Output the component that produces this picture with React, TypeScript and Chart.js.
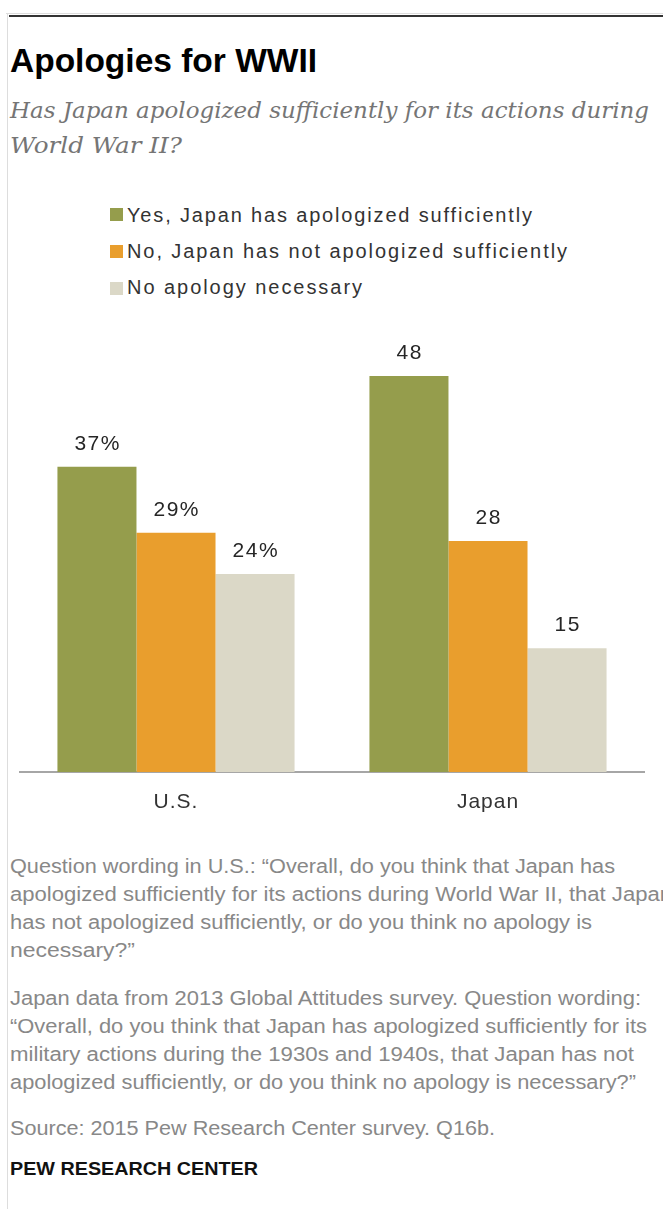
import React, { useEffect, useRef } from 'react';
import { Chart, registerables } from 'chart.js';

Chart.register(...registerables);

// ---------- data ----------
const categories = ['U.S.', 'Japan'];
const seriesNames = [
  'Yes, Japan has apologized sufficiently',
  'No, Japan has not apologized sufficiently',
  'No apology necessary',
];
const yesValues = [37, 48];
const noValues = [29, 28];
const noneValues = [24, 15];
const valueSuffix = ['%', ''];
const seriesColors = ['#959d4c', '#e99e2d', '#dbd8c7'];
const yMin = 0;
const yMax = 50;

const titleText = 'Apologies for WWII';
const subtitleLines = [
  'Has Japan apologized sufficiently for its actions during',
  'World War II?',
];
const noteLines1 = [
  'Question wording in U.S.: \u201cOverall, do you think that Japan has',
  'apologized sufficiently for its actions during World War II, that Japan',
  'has not apologized sufficiently, or do you think no apology is',
  'necessary?\u201d',
];
const noteLines2 = [
  'Japan data from 2013 Global Attitudes survey. Question wording:',
  '\u201cOverall, do you think that Japan has apologized sufficiently for its',
  'military actions during the 1930s and 1940s, that Japan has not',
  'apologized sufficiently, or do you think no apology is necessary?\u201d',
];
const sourceText = 'Source: 2015 Pew Research Center survey. Q16b.';
const creditText = 'PEW RESEARCH CENTER';

// ---------- layout (positions / sizes only) ----------
const subtitleWidths = [639, 172];
const legendTextWidths = [405, 440, 235];
const note1Widths = [605, 662, 582, 125];
const note2Widths = [631, 637, 624, 626];
const note1Baselines = [873, 901, 929, 957];
const note2Baselines = [1005, 1033, 1061, 1089];

const valueLabelPlugin = {
  id: 'valueLabels',
  afterDatasetsDraw(chart: any) {
    const ctx = chart.ctx;
    ctx.save();
    ctx.font = '21px "Liberation Sans", Arial, sans-serif';
    ctx.fillStyle = '#262626';
    ctx.textAlign = 'center';
    ctx.textBaseline = 'alphabetic';
    (ctx as any).letterSpacing = '1.5px';
    chart.data.datasets.forEach((ds: any, di: number) => {
      const meta = chart.getDatasetMeta(di);
      meta.data.forEach((bar: any, i: number) => {
        ctx.fillText(`${ds.data[i]}${valueSuffix[i]}`, bar.x + 0.75, bar.y - 17);
      });
    });
    ctx.restore();
  },
};

const letterSpacingPlugin = {
  id: 'tickSpacing',
  beforeDraw(chart: any) {
    (chart.ctx as any).letterSpacing = '1px';
  },
  afterDraw(chart: any) {
    (chart.ctx as any).letterSpacing = '0px';
  },
};

function BarChart() {
  const ref = useRef<HTMLCanvasElement | null>(null);
  useEffect(() => {
    if (!ref.current) return;
    const dataSets = [yesValues, noValues, noneValues];
    const chart = new Chart(ref.current, {
      type: 'bar',
      data: {
        labels: categories,
        datasets: dataSets.map((d, i) => ({
          label: seriesNames[i],
          data: d,
          backgroundColor: seriesColors[i],
          borderWidth: 0,
          categoryPercentage: 0.76,
          barPercentage: 1,
        })),
      },
      options: {
        animation: false,
        responsive: false,
        maintainAspectRatio: false,
        layout: { padding: { top: 39.5, left: 20, right: 19, bottom: 0 } },
        plugins: {
          legend: { display: false },
          tooltip: { enabled: false },
          title: { display: false },
        },
        scales: {
          x: {
            grid: { display: false, drawTicks: false },
            border: { display: true, color: '#a6a6a6', width: 2 },
            ticks: {
              color: '#333333',
              font: { family: '"Liberation Sans", Arial, sans-serif', size: 21 },
              padding: 18,
            },
            afterFit: (s: any) => {
              s.height = 58;
            },
          },
          y: { display: false, min: yMin, max: yMax },
        },
      } as any,
      plugins: [valueLabelPlugin, letterSpacingPlugin],
    });
    return () => chart.destroy();
  }, []);
  return (
    <canvas
      ref={ref}
      width={663}
      height={510}
      style={{ position: 'absolute', left: 0, top: 320, width: 663, height: 510 }}
    />
  );
}

export default function App() {
  const sans = '"Liberation Sans", Arial, sans-serif';
  const serif = '"DejaVu Serif", Georgia, serif';
  return (
    <div
      style={{
        position: 'absolute',
        left: 0,
        top: 0,
        width: 663,
        height: 1209,
        overflow: 'hidden',
        background: '#ffffff',
      }}
    >
      <svg
        width={663}
        height={1209}
        style={{ position: 'absolute', left: 0, top: 0 }}
      >
        {/* frame */}
        <rect x={6} y={13} width={657} height={1} fill="#dddddd" />
        <rect x={7} y={13} width={1} height={1196} fill="#dddddd" />
        <rect x={9} y={15} width={654} height={2} fill="#333333" />

        {/* title */}
        <text
          x={10}
          y={72}
          textLength={307}
          lengthAdjust="spacingAndGlyphs"
          style={{ fontFamily: sans, fontWeight: 700, fontSize: 34, fill: '#000' }}
        >
          {titleText}
        </text>

        {/* subtitle */}
        {subtitleLines.map((t, i) => (
          <text
            key={i}
            x={10}
            y={118 + i * 35}
            textLength={subtitleWidths[i]}
            lengthAdjust="spacingAndGlyphs"
            style={{ fontFamily: serif, fontStyle: 'italic', fontSize: 23, fill: '#757575' }}
          >
            {t}
          </text>
        ))}

        {/* legend */}
        {seriesNames.map((n, i) => (
          <g key={i}>
            <rect x={110} y={208 + i * 37} width={13} height={13} fill={seriesColors[i]} />
            <text
              x={127}
              y={222 + i * 36}
              textLength={legendTextWidths[i]}
              lengthAdjust="spacing"
              style={{ fontFamily: sans, fontSize: 20, fill: '#333333' }}
            >
              {n}
            </text>
          </g>
        ))}

        {/* notes */}
        {noteLines1.map((t, i) => (
          <text
            key={'a' + i}
            x={10}
            y={note1Baselines[i]}
            textLength={note1Widths[i]}
            lengthAdjust="spacingAndGlyphs"
            style={{ fontFamily: sans, fontSize: 20, fill: '#888888' }}
          >
            {t}
          </text>
        ))}
        {noteLines2.map((t, i) => (
          <text
            key={'b' + i}
            x={10}
            y={note2Baselines[i]}
            textLength={note2Widths[i]}
            lengthAdjust="spacingAndGlyphs"
            style={{ fontFamily: sans, fontSize: 20, fill: '#888888' }}
          >
            {t}
          </text>
        ))}
        <text
          x={10}
          y={1135}
          textLength={485}
          lengthAdjust="spacingAndGlyphs"
          style={{ fontFamily: sans, fontSize: 20, fill: '#888888' }}
        >
          {sourceText}
        </text>
        <text
          x={10}
          y={1175}
          textLength={248}
          lengthAdjust="spacingAndGlyphs"
          style={{ fontFamily: sans, fontWeight: 700, fontSize: 19, fill: '#111111' }}
        >
          {creditText}
        </text>
      </svg>
      <BarChart />
    </div>
  );
}
